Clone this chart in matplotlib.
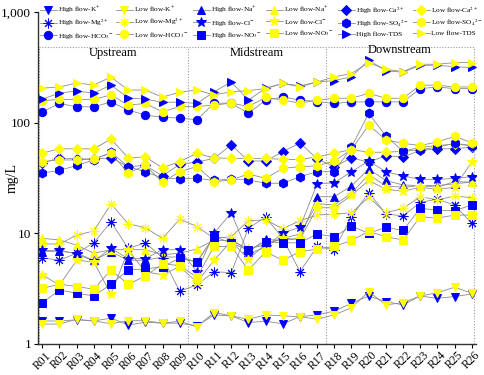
import numpy as np
import matplotlib
matplotlib.use('Agg')
import matplotlib.pyplot as plt

plt.rcParams['font.family'] = ['Liberation Serif', 'DejaVu Serif']
plt.rcParams['mathtext.fontset'] = 'stix'

sites = ['R%02d' % i for i in range(1, 27)]

# concentrations (mg/L) at each site, high flow / low flow
k_high = [1.61, 1.61, 1.65, 1.61, 1.71, 1.48, 1.57, 1.54, 1.54, 1.45, 1.83, 1.79, 1.56,
          1.60, 1.52, 1.76, 1.83, 1.98, 2.33, 2.71, 2.41, 2.25, 2.71, 2.58, 2.68, 2.82]
k_low = [1.51, 1.51, 1.67, 1.61, 1.52, 1.62, 1.62, 1.54, 1.60, 1.43, 1.92, 1.79, 1.67,
         1.83, 1.79, 1.76, 1.67, 1.83, 2.12, 2.97, 2.25, 2.36, 2.71, 2.90, 3.25, 2.87]
na_high = [6.8, 6.9, 6.6, 5.7, 6.8, 5.7, 5.7, 6.1, 6.1, 5.5, 9.3, 9.0, 6.8,
           8.8, 8.6, 9.0, 21.4, 21.4, 26.8, 38, 30, 27.3, 27, 27, 28, 29]
na_low = [9.0, 8.7, 7.8, 6.6, 7.1, 7.1, 7.1, 6.4, 6.6, 7.2, 8.7, 8.5, 7.3,
          7.8, 9.0, 9.85, 18.5, 18, 23, 34, 26.8, 26, 27, 26, 29.3, 29]
ca_high = [43, 48, 47, 47, 48, 40, 41, 33, 42, 44, 47.5, 63, 45,
           45, 54.6, 65.6, 47, 40, 48, 44, 50, 49, 56, 58, 58, 60]
ca_low = [53, 58, 58, 58, 71, 48, 49, 39, 44.5, 52.7, 48, 47.5, 47.5,
          47.5, 46.5, 46.5, 49, 53, 57, 54, 54, 55, 60, 62, 64, 62]
mg_high = [6.0, 5.7, 6.6, 8.2, 12.7, 7.3, 8.2, 6.0, 3.0, 3.4, 4.5, 4.4, 11.1,
           14, 9.0, 4.5, 7.6, 7.1, 14.1, 23.3, 15, 14.3, 19, 20.3, 18, 12.3]
mg_low = [8.0, 8.0, 9.6, 10.5, 18.4, 12.2, 11.2, 9.0, 13.4, 11.5, 9.0, 9.3, 13.0,
          13.2, 11.0, 13.0, 14.6, 14.9, 15.3, 21.2, 15.3, 16.8, 21.4, 20.0, 21.7, 21.0]
cl_high = [7.0, 7.0, 6.5, 5.6, 7.3, 5.9, 5.9, 7.1, 7.1, 4.5, 10, 15.3, 6.5,
           7.5, 10.1, 11.3, 28, 28.6, 36, 45, 36, 33, 30.7, 30.7, 31.3, 32.5]
cl_low = [4.2, 3.4, 5.7, 5.5, 2.8, 7.0, 4.5, 4.2, 5.0, 3.6, 5.7, 8.5, 5.8,
          8.0, 9.0, 8.8, 17, 17, 22, 30, 25, 24, 26, 25, 26, 44]
so4_high = [35, 37, 41, 46, 54, 40, 36, 31.5, 31, 31.4, 30, 31, 30.3,
            28.3, 28.3, 32.5, 36, 36, 60, 121, 76, 55, 57, 60, 65, 62]
so4_low = [44.5, 46, 46, 47, 53, 35, 41, 29, 36, 40, 29.3, 30.3, 34.3,
           31.4, 38.6, 40, 40.6, 45, 57, 95, 70, 65, 62, 67, 75, 66]
hco3_high = [125, 149, 139, 139, 154, 130, 117, 112, 110, 106, 150, 150, 121,
             160, 170, 160, 155, 149, 154, 154, 154, 154, 203, 210, 203, 203]
hco3_low = [158, 162, 162, 162, 178, 144, 149, 125, 140, 140, 144, 150, 140,
            169, 160, 150, 160, 166, 166, 184, 166, 166, 218, 218, 210, 210]
no3_high = [2.35, 3.07, 2.87, 2.71, 3.46, 4.66, 4.75, 4.98, 5.95, 5.5, 9.3, 8.2, 7.0,
            8.4, 8.2, 8.2, 9.85, 9.3, 11.6, 10.0, 11.3, 10.6, 16.8, 16.2, 16.0, 18.0]
no3_low = [3.18, 3.46, 3.3, 3.12, 4.66, 3.46, 4.1, 5.3, 5.1, 4.0, 7.6, 7.6, 4.66,
           6.8, 5.7, 6.8, 7.2, 7.6, 8.6, 10.4, 9.3, 8.7, 14.1, 13.7, 14.6, 14.6]
tds_high = [163, 185, 193, 185, 219, 167, 163, 153, 153, 149, 190, 233, 160,
            205, 226, 215, 233, 240, 260, 367, 295, 285, 330, 330, 320, 315]
tds_low = [205, 210, 228, 219, 258, 197, 197, 170, 189, 197, 178, 190, 195,
           203, 226, 211, 233, 259, 278, 349, 303, 289, 337, 337, 349, 349]

sections = ['Upstream', 'Midstream', 'Downstream']
section_edges = [-0.22, 8.5, 16.5, 25.15]

BLUE = '#0000ff'
YELLOW = '#ffff00'

# name, marker, size, high data, low data (legend order, row by row)
series = [
    ('K$^{+}$', 'v', 6, k_high, k_low),
    ('Na$^{+}$', '^', 6, na_high, na_low),
    ('Ca$^{2+}$', 'D', 5, ca_high, ca_low),
    ('Mg$^{2+}$', (8, 2, 0), 7, mg_high, mg_low),
    ('Cl$^{-}$', '*', 7.5, cl_high, cl_low),
    ('SO$_4$$^{2-}$', 'h', 6.5, so4_high, so4_low),
    ('HCO$_3$$^{-}$', 'o', 6, hco3_high, hco3_low),
    ('NO$_3$$^{-}$', 's', 5.5, no3_high, no3_low),
    ('TDS', '>', 6, tds_high, tds_low),
]

fig = plt.figure(figsize=(4.84, 3.75), dpi=100)
ax = fig.add_axes([0.0785, 0.083, 0.905, 0.885])

x = np.arange(len(sites))
handles = []
for name, mk, ms, hi, lo in series:
    for data, col, lab in ((hi, BLUE, 'High flow-'), (lo, YELLOW, 'Low flow-')):
        h, = ax.plot(x, data, color='#8c8c8c', lw=0.6, marker=mk, ms=ms,
                     mfc=col, mec=col, mew=0.7, label=lab + name)
        handles.append(h)

ax.set_yscale('log')
ax.set_ylim(1, 1000)
ax.set_xlim(-0.25, 25.25)
ax.set_yticks([1, 10, 100, 1000])
ax.set_yticklabels(['1', '10', '100', '1,000'], fontsize=9.5)
ax.yaxis.set_minor_locator(matplotlib.ticker.NullLocator())
ax.set_xticks(x)
ax.set_xticklabels(sites, rotation=45, fontsize=8.4)
ax.tick_params(axis='both', length=3, width=0.8, pad=2)
ax.tick_params(axis='x', pad=1)
ax.set_ylabel('mg/L', fontsize=10)
ax.yaxis.set_label_coords(-0.044, 0.5)

for s in ['top', 'right']:
    ax.spines[s].set_visible(False)
for s in ['left', 'bottom']:
    ax.spines[s].set_color('#333333')
    ax.spines[s].set_linewidth(1.0)

# dotted section boxes
box_top = 480
dot = dict(color='#9a9a9a', lw=0.8, ls=(0, (1, 1.5)), zorder=0)
ax.plot([section_edges[0], section_edges[-1]], [box_top, box_top], **dot)
for e in section_edges:
    ax.plot([e, e], [1, box_top], **dot)
for i, name in enumerate(sections):
    xc = (section_edges[i] + section_edges[i + 1]) / 2
    ax.text(xc, 455 if i == 2 else 425, name, ha='center', va='center', fontsize=9)

# legend: 6 columns x 3 rows, one legend per column so columns sit where they should
ncol = 6
nrow = 3
col_left = [40, 116, 193, 266, 338, 413]
W, H = 484.0, 375.0
for c in range(ncol):
    hs = [handles[r * ncol + c] for r in range(nrow)]
    fig.legend(handles=hs, labels=[h.get_label() for h in hs], loc='upper left',
               bbox_to_anchor=(col_left[c] / W, 1 - 5.0 / H), frameon=False,
               fontsize=5.2, handlelength=2.3, handletextpad=0.22,
               labelspacing=0.35, borderpad=0, borderaxespad=0, markerscale=1.0)

fig.savefig('out.png', dpi=100)
